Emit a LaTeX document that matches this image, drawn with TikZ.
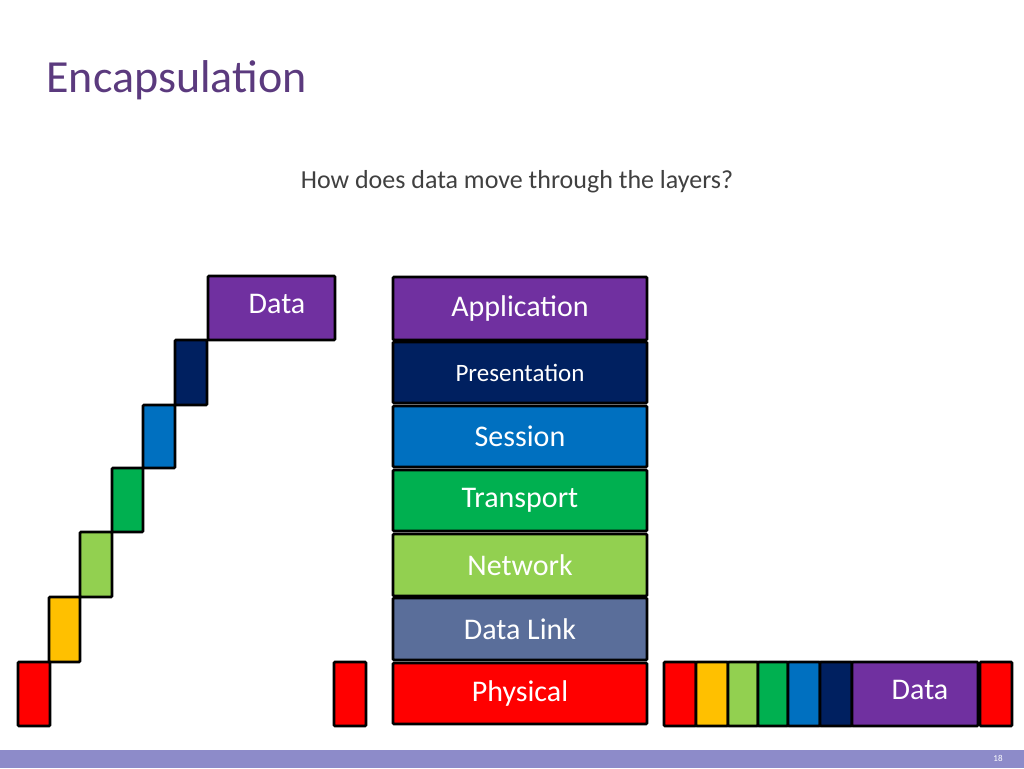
\documentclass[tikz,border=0pt]{standalone}
\usepackage{fontspec}
\setmainfont{Carlito}
\definecolor{appc}{HTML}{7030A0}
\definecolor{prec}{HTML}{002060}
\definecolor{sesc}{HTML}{0070C0}
\definecolor{trac}{HTML}{00B050}
\definecolor{netc}{HTML}{92D050}
\definecolor{dlc}{HTML}{5A6E9A}
\definecolor{phyc}{HTML}{FF0000}
\definecolor{yelc}{HTML}{FFC000}
\definecolor{titc}{HTML}{5B3A7E}
\definecolor{barc}{HTML}{8D8BC9}
\begin{document}
\begin{tikzpicture}[x=1pt,y=-1pt,
  blk/.style={draw=black,line width=2.6pt,rounded corners=1pt,text=white},
  lbl/.style={text=white,font=\fontsize{30}{30}\selectfont}]
\useasboundingbox (0,0) rectangle (1024,768);
\fill[barc] (0,750) rectangle (1024,768);
\node[text=white,font=\fontsize{9}{9}\selectfont] (pg) at (998,758) {18};
\node[anchor=base west,text=titc,font=\fontsize{46}{46}\selectfont] (title) at (43,92) {Encapsulation};
\node[text=black!75,font=\fontsize{26}{26}\selectfont] (sub) at (517,182) {How does data move through the layers?};
% stack
\newcommand{\lay}[6]{\filldraw[blk,fill=#1] (393,#2) rectangle (647,#3); \node[lbl,font=\fontsize{#6}{#6}\selectfont] (#4) at (520,{(#2+#3)/2}) {#5};}
\lay{appc}{277}{340}{app}{Application}{30}
\lay{prec}{342}{403}{pre}{Presentation}{25}
\lay{sesc}{406}{467}{ses}{Session}{30}
\lay{trac}{470}{531}{tra}{Transport}{30}
\lay{netc}{534}{596}{net}{Network}{30}
\lay{dlc}{598}{660}{dl}{Data Link}{30}
\lay{phyc}{663}{724}{phy}{Physical}{30}
% left data
\filldraw[blk,fill=appc] (208,276) rectangle (335,340);
\node[lbl] (d1) at (277,304) {Data};
\filldraw[blk,fill=prec] (175,340) rectangle (207,405);
\filldraw[blk,fill=sesc] (143,405) rectangle (175,468);
\filldraw[blk,fill=trac] (112,468) rectangle (143,532);
\filldraw[blk,fill=netc] (80,532) rectangle (112,597);
\filldraw[blk,fill=yelc] (49,597) rectangle (80,662);
\filldraw[blk,fill=phyc] (18,662) rectangle (50,726);
\filldraw[blk,fill=phyc] (334,662) rectangle (366,726);
% right frame
\filldraw[blk,fill=phyc] (664,662) rectangle (696,726);
\filldraw[blk,fill=yelc] (696,662) rectangle (728,726);
\filldraw[blk,fill=netc] (728,662) rectangle (758,726);
\filldraw[blk,fill=trac] (758,662) rectangle (788,726);
\filldraw[blk,fill=sesc] (788,662) rectangle (820,726);
\filldraw[blk,fill=prec] (820,662) rectangle (852,726);
\filldraw[blk,fill=appc] (852,662) rectangle (978,726);
\node[lbl] (d2) at (920,690) {Data};
\filldraw[blk,fill=phyc] (980,662) rectangle (1012,726);
\end{tikzpicture}
\end{document}
